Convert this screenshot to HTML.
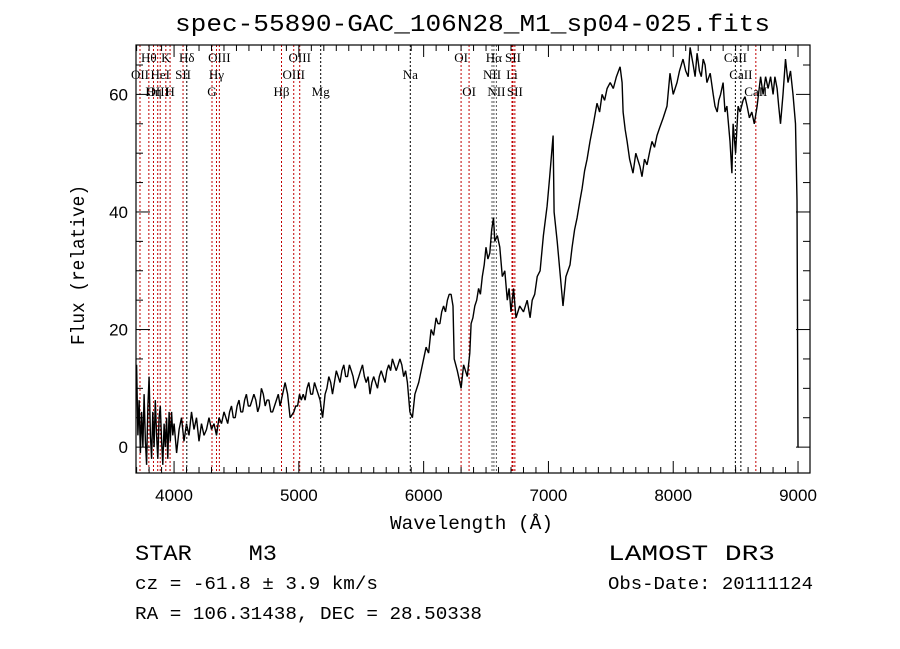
<!DOCTYPE html>
<html><head><meta charset="utf-8">
<style>
html,body{margin:0;padding:0;background:#fff;}
svg{display:block;}
.tl{font-family:"Liberation Serif",serif;font-size:13px;}
.ax{font-family:"Liberation Sans",sans-serif;font-size:17px;}
.info{font-family:"Liberation Mono",monospace;}
</style></head>
<body>
<svg id="chart" width="900" height="649" viewBox="0 0 900 649" xmlns="http://www.w3.org/2000/svg">
<rect width="900" height="649" fill="#fff"/>
<text x="175" y="31" textLength="595" lengthAdjust="spacingAndGlyphs" font-family="Liberation Mono, monospace" font-size="24">spec-55890-GAC_106N28_M1_sp04-025.fits</text>
<g id="lines"></g>
<g id="labels"></g>
<path id="spec" fill="none" stroke="#000" stroke-width="1.4" stroke-linejoin="bevel"/>
<rect x="136" y="45" width="674" height="428" fill="none" stroke="#000" stroke-width="1.2"/>
<g id="ticks"></g>
<text x="390" y="529" textLength="163" lengthAdjust="spacingAndGlyphs" font-family="Liberation Mono, monospace" font-size="19">Wavelength (Å)</text>
<text transform="translate(84,345) rotate(-90)" textLength="160" lengthAdjust="spacingAndGlyphs" font-family="Liberation Mono, monospace" font-size="19">Flux (relative)</text>
<text x="135" y="560" textLength="142" lengthAdjust="spacingAndGlyphs" font-family="Liberation Mono, monospace" font-size="22">STAR&#160;&#160;&#160;&#160;M3</text>
<text x="135" y="589" textLength="243" lengthAdjust="spacingAndGlyphs" class="info" font-size="18">cz = -61.8 ± 3.9 km/s</text>
<text x="135" y="619" textLength="347" lengthAdjust="spacingAndGlyphs" class="info" font-size="18">RA = 106.31438, DEC =  28.50338</text>
<text x="608" y="560" textLength="167" lengthAdjust="spacingAndGlyphs" font-family="Liberation Mono, monospace" font-size="22">LAMOST DR3</text>
<text x="608" y="589" textLength="205" lengthAdjust="spacingAndGlyphs" class="info" font-size="18">Obs-Date: 20111124</text>
</svg>
<script>
const wavelengths=[3700,3710,3720,3730,3740,3750,3760,3770,3780,3790,3800,3810,3820,3830,3840,3850,3860,3870,3880,3890,3900,3910,3920,3930,3940,3950,3960,3970,3980,3990,4000,4020,4040,4060,4080,4100,4120,4140,4160,4180,4200,4220,4240,4260,4280,4300,4320,4340,4360,4380,4400,4415,4430,4445,4460,4475,4490,4505,4520,4535,4550,4565,4580,4595,4610,4625,4640,4655,4670,4685,4700,4715,4730,4745,4760,4775,4790,4805,4820,4835,4850,4870,4890,4910,4930,4960,4975,4990,5005,5020,5035,5050,5065,5080,5095,5110,5125,5140,5155,5170,5190,5210,5225,5240,5255,5270,5285,5300,5315,5330,5345,5360,5375,5390,5405,5420,5435,5450,5465,5480,5495,5510,5525,5540,5555,5570,5585,5600,5615,5630,5645,5660,5675,5690,5705,5720,5735,5750,5765,5780,5795,5810,5825,5840,5855,5870,5890,5910,5930,5960,5990,6020,6040,6060,6080,6100,6115,6130,6145,6160,6175,6190,6205,6220,6235,6245,6270,6300,6320,6350,6370,6380,6395,6410,6425,6440,6455,6470,6485,6500,6515,6530,6545,6560,6570,6590,6610,6630,6650,6670,6685,6700,6720,6740,6770,6800,6830,6853,6870,6890,6910,6933,6960,6989,7010,7037,7045,7070,7100,7117,7140,7173,7190,7210,7230,7253,7270,7290,7310,7333,7360,7389,7410,7430,7450,7470,7495,7520,7545,7574,7590,7598,7615,7630,7650,7678,7700,7734,7750,7770,7790,7814,7830,7850,7870,7894,7920,7950,7974,8000,8015,8030,8050,8078,8100,8120,8135,8160,8175,8191,8210,8225,8240,8255,8270,8296,8320,8335,8352,8365,8380,8400,8415,8430,8455,8470,8480,8500,8520,8536,8560,8575,8592,8610,8630,8650,8672,8700,8720,8740,8760,8780,8800,8815,8832,8845,8860,8880,8900,8920,8940,8960,8980,8992,9000,9005,9030];
const fluxes=[14,2,8,-1,6,0,9,1,-3,7,12,2,-2,6,0,8,2,-2,5,7,1,-3,4,0,5,-2,6,1,6,2,4,-1,3,5,1,4,2,6,3,5,1,4,2,3,5,3,4,2,5,4,6,5,4,6,7,5,5,7,8,6,6,8,9,7,7,8,9,8,6,7,10,9,7,8,8,6,6,7,8,9,7,9,11,9,5,6,7,7,9,8,9,8,10,11,9,9,11,10,9,8,5,9,10,12,11,9,11,13,12,11,13,14,12,12,14,13,12,10,11,12,13,14,12,11,12,9,11,12,11,10,12,13,12,11,13,14,13,15,14,13,14,15,14,12,13,11,6,5,9,11,14,17,16,20,19,22,21,21,23,24,23,25,26,26,24,15,13,10,14,12,16,21,22,24,25,27,26,29,31,34,32,33,37,39,35,36,34,29,30,25,27,23,27,22,24,23,25,22,25,26,29,30,36,41,46,53,40,35,28,24,29,31,34,37,39,42,44,47,49,52,55,58.5,57,60,59,61,62,61,63,64.7,62,57,54,52,49,46.6,50,47.7,46,49,48,50.5,52,51,53,54.5,56,58,63.6,60,61,62,64,66,64,63,68,65,63,67,64,63,66,65,62,63.6,60,58,57,59,60,62,57,58,52,46.6,55,50,58,57,59,59.6,58,56,57,55,58,63,60,63,61,63,60,63,61,58,55,60,66,62,64,60,55,42,0,0];
const lineWl=[3727,3798,3835,3869,3889,3934,3968,4072,4102,4304,4340,4363,4861,4959,5007,5175,5893,6300,6364,6548,6563,6583,6708,6716,6731,8498,8542,8662];
const lineLabels=["OII","Hθ","Hη","OIII","HeI","K","H","SII","Hδ","G","Hγ","OIII","Hβ","OIII","OIII","Mg","Na","OI","OI","NII","Hα","NII","Li","SII","SII","CaII","CaII","CaII"];
const lineRows=[2,1,3,3,2,1,3,2,1,3,2,1,3,2,1,3,2,1,3,2,1,3,2,1,3,1,2,3];
const lineColors=["#c00000","#c00000","#c00000","#c00000","#c00000","#c00000","#c00000","#c00000","#000","#c00000","#c00000","#c00000","#c00000","#c00000","#c00000","#000","#000","#c00000","#c00000","#555","#555","#555","#c00000","#c00000","#c00000","#000","#000","#c00000"];
const xTicks=[4000,5000,6000,7000,8000,9000];
const yTicks=[0,20,40,60];

const X0=136,X1=810,Y0=473,Y1=45,WMIN=3695,WMAX=9096,FMIN=-4.4,FMAX=68.4;
const sx=w=>X0+(w-WMIN)/(WMAX-WMIN)*(X1-X0);
const sy=f=>Y0-(f-FMIN)/(FMAX-FMIN)*(Y0-Y1);
const NS="http://www.w3.org/2000/svg";
function mk(tag,attrs,parent){const e=document.createElementNS(NS,tag);for(const k in attrs)e.setAttribute(k,attrs[k]);parent.appendChild(e);return e;}

let d="";
for(let i=0;i<wavelengths.length;i++){
  const x=Math.max(X0,Math.min(X1,sx(wavelengths[i]))),y=Math.max(Y1,Math.min(Y0,sy(fluxes[i])));
  d+=(i===0?"M":"L")+x.toFixed(1)+" "+y.toFixed(1);
}
document.getElementById("spec").setAttribute("d",d);

const gl=document.getElementById("lines"),glab=document.getElementById("labels");
const rowY={1:62,2:79,3:96};
for(let i=0;i<lineWl.length;i++){
  const x=sx(lineWl[i]);
  const ln=mk("line",{x1:x,x2:x,y1:Y1,y2:Y0,stroke:lineColors[i],"stroke-width":1,"stroke-dasharray":"2,2"},gl);
  
  
  const t=mk("text",{x:x,y:rowY[lineRows[i]],"text-anchor":"middle",class:"tl"},glab);
  t.textContent=lineLabels[i];
  
  
}

const gt=document.getElementById("ticks");
for(let w=3700;w<=9000;w+=100){
  const x=sx(w),maj=(w%1000===0),L=maj?12:6;
  mk("line",{x1:x,x2:x,y1:Y0,y2:Y0-L,stroke:"#000","stroke-width":1},gt);
  mk("line",{x1:x,x2:x,y1:Y1,y2:Y1+L,stroke:"#000","stroke-width":1},gt);
}
xTicks.forEach(w=>{
  const t=mk("text",{x:sx(w),y:501,"text-anchor":"middle",class:"ax"},gt);
  t.textContent=String(w);
  
  
});
for(let f=0;f<=65;f+=5){
  const y=sy(f),maj=(f%20===0),L=maj?14:7;
  mk("line",{x1:X0,x2:X0+L,y1:y,y2:y,stroke:"#000","stroke-width":1},gt);
  mk("line",{x1:X1,x2:X1-L,y1:y,y2:y,stroke:"#000","stroke-width":1},gt);
}
yTicks.forEach(f=>{
  const t=mk("text",{x:128,y:sy(f)+6,"text-anchor":"end",class:"ax"},gt);
  t.textContent=String(f);
  
  
});
</script>
</body></html>
